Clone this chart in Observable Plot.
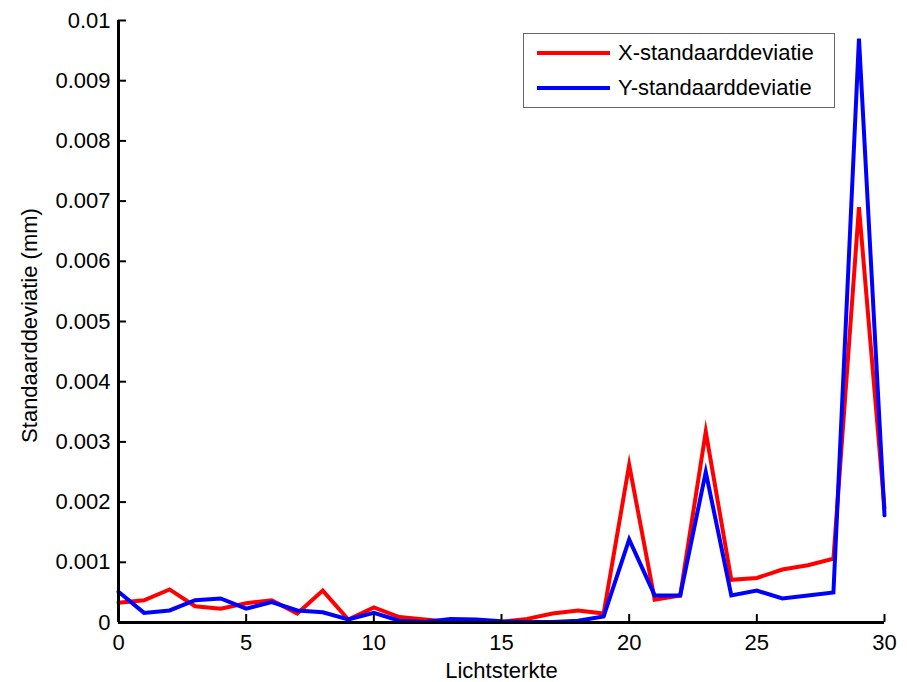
<!DOCTYPE html>
<html>
<head>
<meta charset="utf-8">
<script src="https://cdn.jsdelivr.net/npm/d3@7"></script>
<script src="https://cdn.jsdelivr.net/npm/@observablehq/plot@0.6"></script>
<style>
  html, body { margin: 0; padding: 0; background: #fff; }
  #wrap { position: relative; width: 907px; height: 682px; font-family: "Liberation Sans", Arial, sans-serif; }
  #legend { position: absolute; left: 523px; top: 33px; width: 312px; height: 75px; border: 1px solid #666; background: #fff; box-sizing: border-box; }
  .row { position: absolute; left: 13px; height: 26px; display: flex; align-items: center; font-size: 22px; color: #000; white-space: nowrap; }
  .sw { width: 73px; height: 0; border-top: 4px solid; margin-right: 8px; }
</style>
</head>
<body>
<div id="wrap"></div>
<script>
const lichtsterkte = d3.range(0, 31);
const xStd = [0.00033, 0.00037, 0.00055, 0.00027, 0.00023, 0.00032, 0.00037, 0.00015, 0.00053, 0.00005,
              0.00025, 0.00009, 0.00005, 0.00001, 0.00001, 0.00001, 0.00006, 0.00015, 0.00020, 0.00015,
              0.00262, 0.00038, 0.00045, 0.00317, 0.00071, 0.00074, 0.00088, 0.00095, 0.00106, 0.00690,
              0.00190];
const yStd = [0.00051, 0.00016, 0.00020, 0.00037, 0.00040, 0.00023, 0.00034, 0.00020, 0.00017, 0.00005,
              0.00016, 0.00003, 0.00001, 0.00006, 0.00005, 0.00002, 0.00001, 0.00001, 0.00003, 0.00010,
              0.00138, 0.00045, 0.00045, 0.00250, 0.00045, 0.00053, 0.00040, 0.00045, 0.00050, 0.00970,
              0.00178];
const xTicks = [0, 5, 10, 15, 20, 25, 30];
const yTicks = [0, 0.001, 0.002, 0.003, 0.004, 0.005, 0.006, 0.007, 0.008, 0.009, 0.01];
const seriesNames = ["X-standaarddeviatie", "Y-standaarddeviatie"];
const seriesColors = ["#ff0000", "#0000ff"];
const xLabel = "Lichtsterkte";
const yLabel = "Standaarddeviatie (mm)";

const rows = [];
lichtsterkte.forEach((l, i) => rows.push({l, v: xStd[i], s: seriesNames[0]}));
lichtsterkte.forEach((l, i) => rows.push({l, v: yStd[i], s: seriesNames[1]}));

const W = 907, H = 682;
const mL = 118, mR = 23, mT = 20, mB = 60;
const pw = W - mL - mR, ph = H - mT - mB;
const fmt = d => String(+d.toFixed(4));
const FS = 22;

const chart = Plot.plot({
  width: W, height: H,
  marginLeft: mL, marginRight: mR, marginTop: mT, marginBottom: mB,
  style: {fontFamily: "'Liberation Sans', Arial, sans-serif", fontSize: FS + "px", color: "#000", background: "#fff", overflow: "visible"},
  x: {domain: [0, 30]},
  y: {domain: [0, 0.01]},
  color: {domain: seriesNames, range: seriesColors},
  marks: [
    Plot.line(rows, {x: "l", y: "v", z: "s", stroke: "s", strokeWidth: 4, strokeLinejoin: "miter", strokeMiterlimit: 10}),
    Plot.axisX(xTicks, {tickSize: 0, tickPadding: 12, tickFormat: fmt, label: null, fontSize: FS}),
    Plot.axisY(yTicks, {tickSize: 0, tickPadding: 8, tickFormat: fmt, label: null, fontSize: FS}),
    Plot.text([xLabel], {text: d => d, frameAnchor: "bottom", textAnchor: "middle", dy: 48, lineAnchor: "middle", fontSize: FS, fill: "#000"}),
    Plot.text([yLabel], {text: d => d, frameAnchor: "left", textAnchor: "middle", rotate: -90, dx: -89, dy: 4, lineAnchor: "middle", fontSize: FS, fill: "#000"}),
    Plot.tickX(xTicks, {x: d => d, stroke: "#000", strokeWidth: 2, insetTop: ph - 8}),
    Plot.tickY(yTicks, {y: d => d, stroke: "#000", strokeWidth: 2, insetRight: pw - 8}),
    Plot.ruleY([0], {stroke: "#000", strokeWidth: 3}),
    Plot.ruleX([0], {stroke: "#000", strokeWidth: 3})
  ]
});

const wrap = document.getElementById("wrap");
wrap.appendChild(chart);

const legend = document.createElement("div");
legend.id = "legend";
seriesNames.forEach((name, i) => {
  const row = document.createElement("div");
  row.className = "row";
  row.style.top = (i === 0 ? 6 : 41) + "px";
  const sw = document.createElement("span");
  sw.className = "sw";
  sw.style.borderTopColor = seriesColors[i];
  const t = document.createElement("span");
  t.textContent = name;
  row.appendChild(sw);
  row.appendChild(t);
  legend.appendChild(row);
});
wrap.appendChild(legend);
</script>
</body>
</html>
